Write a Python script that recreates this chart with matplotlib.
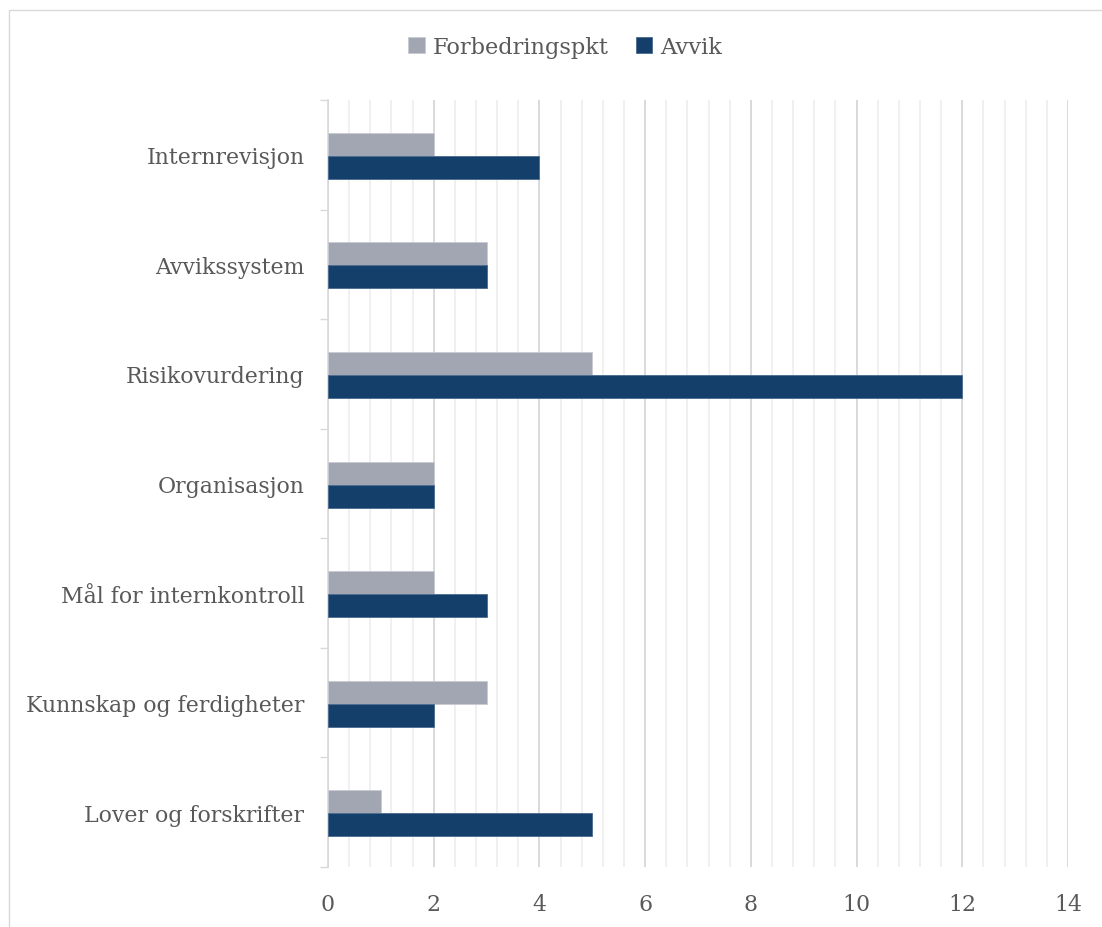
import matplotlib.pyplot as plt
import numpy as np
from matplotlib.lines import Line2D
from matplotlib.ticker import MultipleLocator, FixedLocator

categories = ["Internrevisjon", "Avvikssystem", "Risikovurdering", "Organisasjon",
              "Mål for internkontroll", "Kunnskap og ferdigheter", "Lover og forskrifter"]
forbedring = [2, 3, 5, 2, 2, 3, 1]
avvik = [4, 3, 12, 2, 3, 2, 5]
xticks = [0, 2, 4, 6, 8, 10, 12, 14]

grey = "#A2A5B2"
navy = "#143F6B"
textc = "#595959"

plt.rcParams['font.family'] = ['DejaVu Serif']

fig = plt.figure(figsize=(11.02, 9.28), dpi=100)
# outer border (left and top only, the rest is cropped off)
bx, by = 8.5 / 1102, 1 - 10.5 / 928
fig.lines.append(Line2D([bx, bx, 1.0], [0.0, by, by], transform=fig.transFigure,
                        color="#D9D9D9", linewidth=1))
ax = fig.add_axes([328 / 1102, 1 - 868 / 928, (1068 - 328) / 1102, (868 - 101) / 928])

y = np.arange(len(categories))
h = 0.21
ax.barh(y - h / 2 + 0.01, forbedring, height=h, color=grey, edgecolor="#c8cad2",
        linewidth=0.6, label="Forbedringspkt", zorder=3)
ax.barh(y + h / 2 + 0.01, avvik, height=h, color=navy, edgecolor="#4a6a8e",
        linewidth=0.6, label="Avvik", zorder=3)

ax.set_xlim(0, 14)
ax.set_ylim(len(categories) - 0.5, -0.5)
ax.set_xticks(xticks)
ax.xaxis.set_minor_locator(MultipleLocator(0.4))
ax.grid(axis="x", which="major", color="#D9D9D9", linewidth=1.4, zorder=0)
ax.grid(axis="x", which="minor", color="#F0F0F0", linewidth=1.4, zorder=0)
ax.set_yticks(y)
ax.set_yticklabels(categories)
ax.yaxis.set_minor_locator(FixedLocator(np.arange(-0.5, len(categories), 1)))
ax.tick_params(axis="y", which="major", length=0, pad=17, labelsize=15.8, labelcolor=textc)
ax.tick_params(axis="y", which="minor", length=6, color="#D9D9D9", width=1)
ax.tick_params(axis="x", which="both", length=0, pad=19, labelsize=15.8, labelcolor=textc)

for s in ["top", "right", "bottom"]:
    ax.spines[s].set_visible(False)
ax.spines["left"].set_color("#D9D9D9")
ax.spines["left"].set_linewidth(1.2)

fig.legend(loc="center", bbox_to_anchor=(565 / 1102, 1 - 48 / 928), ncol=2,
           frameon=False, fontsize=16.2, labelcolor=textc, handlelength=0.75,
           handleheight=0.75, handletextpad=0.35, columnspacing=1.2)

fig.savefig("out.png", dpi=100)
